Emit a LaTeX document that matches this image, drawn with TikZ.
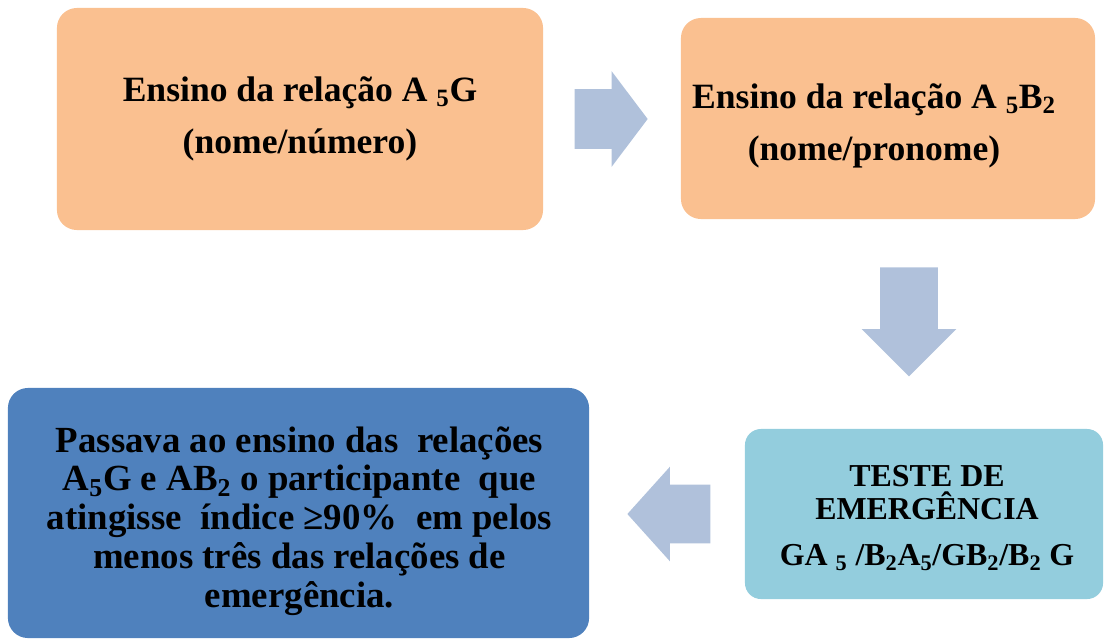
\documentclass[tikz,border=0pt]{standalone}
\usepackage{fontspec}
\setmainfont{Liberation Serif}
\usepackage{tikz}
\usetikzlibrary{positioning,shapes,shapes.arrows,calc}
\definecolor{pessego}{RGB}{250,192,144}
\definecolor{azulesc}{RGB}{79,129,189}
\definecolor{azulclaro}{RGB}{147,205,221}
\definecolor{setacor}{RGB}{176,193,219}

\begin{document}
\begin{tikzpicture}[
    x=0.025cm, y=-0.025cm,
    box/.style={rectangle, rounded corners=0.5cm, inner sep=0pt, align=center, font={\bfseries\fontsize{25.3}{37}\selectfont}},
    seta/.style={single arrow, fill=setacor, inner sep=0pt, minimum width=0pt}
]
    \useasboundingbox (0,0) rectangle (1104,640);

    % Ensino (linha de cima)
    \node[box, fill=pessego, minimum width=12.15cm, minimum height=5.55cm] (ens_ag) at (300,119)
        {Ensino da relação A \textsubscript{5}G\\(nome/número)};
    \node[box, fill=pessego, minimum width=10.35cm, minimum height=5.025cm] (ens_ab) at (888,118.5) {};
    \node[box] (ens_ab_txt) at ($(ens_ab.center)+(-14,7)$)
        {Ensino da relação A \textsubscript{5}B\textsubscript{2}\\(nome/pronome)};

    % Teste e criterio (linha de baixo)
    \node[box, fill=azulclaro, rounded corners=0.4cm, minimum width=8.95cm, minimum height=4.25cm,
        font={\bfseries\fontsize{22.7}{23.4}\selectfont}] (teste) at (924,514) {};
    \node[box, font={\bfseries\fontsize{22.7}{23.4}\selectfont}] (teste_txt) at ($(teste.center)+(3,4)$)
        {TESTE DE\\EMERGÊNCIA\\[0.325cm]GA \textsubscript{5} /B\textsubscript{2}A\textsubscript{5}/GB\textsubscript{2}/B\textsubscript{2} G};
    \node[box, fill=azulesc, minimum width=14.525cm, minimum height=6.25cm] (criterio) at (298.5,513) {};
    \node[box, font={\bfseries\fontsize{26.2}{27.6}\selectfont}] (criterio_txt) at ($(criterio.center)+(1,8)$)
        {Passava ao ensino das\ \ relações\\A\textsubscript{5}G e AB\textsubscript{2} o participante\ \ que\\atingisse\ \ índice ≥90\%\ \ em pelos\\menos três das relações de\\emergência.};

    % Setas
    \node[seta, minimum height=1.825cm, inner ysep=0.7375cm, single arrow head extend=0.45cm,
        single arrow tip angle=106, right=0.775cm of ens_ag] (seta_ab) {};
    \node[seta, minimum height=2.725cm, inner xsep=0.7125cm, single arrow head extend=0.4625cm,
        single arrow tip angle=90, shape border rotate=270, anchor=north] (seta_teste) at (909,267) {};
    \node[seta, minimum height=2.075cm, inner ysep=0.725cm, single arrow head extend=0.45cm,
        single arrow tip angle=96, shape border rotate=180, left=0.85cm of teste] (seta_crit) {};
\end{tikzpicture}
\end{document}
